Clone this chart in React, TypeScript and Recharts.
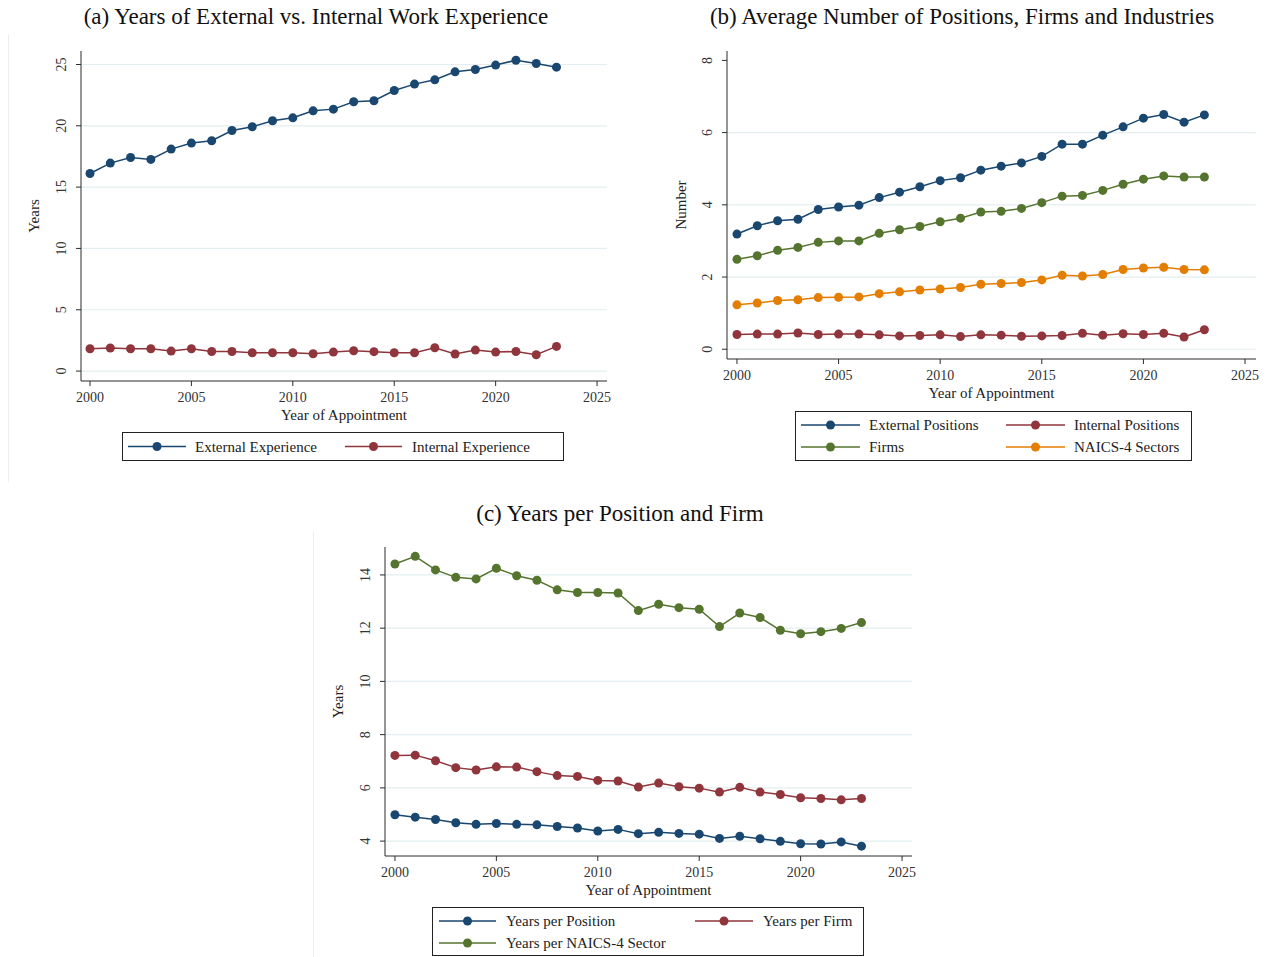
import React from "react";
import { LineChart, Line, XAxis, YAxis, ReferenceLine } from "recharts";

const years = [
  2000, 2001, 2002, 2003, 2004, 2005, 2006, 2007, 2008, 2009, 2010, 2011,
  2012, 2013, 2014, 2015, 2016, 2017, 2018, 2019, 2020, 2021, 2022, 2023,
];

// (a) years of experience
const externalExperience = [
  16.11, 16.96, 17.42, 17.26, 18.1, 18.59, 18.78, 19.62, 19.92, 20.41, 20.65, 21.22,
  21.36, 21.96, 22.04, 22.88, 23.4, 23.75, 24.4, 24.59, 24.95, 25.35, 25.08, 24.78,
];
const internalExperience = [
  1.82, 1.88, 1.82, 1.82, 1.63, 1.82, 1.6, 1.6, 1.49, 1.49, 1.49, 1.41,
  1.55, 1.66, 1.58, 1.49, 1.49, 1.9, 1.39, 1.71, 1.55, 1.6, 1.33, 2.01,
];

// (b) average counts
const externalPositions = [
  3.19, 3.42, 3.56, 3.6, 3.87, 3.94, 3.99, 4.2, 4.35, 4.5, 4.67, 4.75,
  4.96, 5.07, 5.16, 5.34, 5.68, 5.68, 5.93, 6.16, 6.4, 6.5, 6.29, 6.49,
];
const internalPositions = [
  0.41, 0.42, 0.42, 0.45, 0.41, 0.42, 0.42, 0.4, 0.37, 0.38, 0.4, 0.35,
  0.4, 0.39, 0.36, 0.37, 0.38, 0.44, 0.39, 0.43, 0.41, 0.44, 0.34, 0.54,
];
const firms = [
  2.49, 2.59, 2.74, 2.82, 2.96, 3.0, 3.0, 3.21, 3.31, 3.4, 3.53, 3.63,
  3.8, 3.82, 3.9, 4.06, 4.24, 4.26, 4.4, 4.57, 4.71, 4.8, 4.77, 4.77,
];
const naicsSectors = [
  1.23, 1.28, 1.35, 1.37, 1.43, 1.44, 1.45, 1.54, 1.59, 1.64, 1.67, 1.71,
  1.8, 1.82, 1.85, 1.92, 2.05, 2.03, 2.07, 2.21, 2.25, 2.27, 2.21, 2.2,
];

// (c) years per unit
const yearsPerPosition = [
  4.99, 4.9, 4.81, 4.69, 4.63, 4.66, 4.63, 4.61, 4.55, 4.49, 4.38, 4.44,
  4.28, 4.33, 4.29, 4.26, 4.1, 4.18, 4.09, 3.99, 3.9, 3.89, 3.97, 3.81,
];
const yearsPerFirm = [
  7.22, 7.23, 7.02, 6.76, 6.67, 6.79, 6.78, 6.61, 6.46, 6.43, 6.28, 6.26,
  6.03, 6.18, 6.04, 5.99, 5.84, 6.02, 5.84, 5.75, 5.63, 5.6, 5.55, 5.6,
];
const yearsPerSector = [
  14.41, 14.7, 14.19, 13.91, 13.85, 14.25, 13.97, 13.8, 13.44, 13.34, 13.34, 13.32,
  12.66, 12.9, 12.77, 12.71, 12.06, 12.57, 12.4, 11.92, 11.79, 11.87, 11.99, 12.21,
];

const xTicks = [2000, 2005, 2010, 2015, 2020, 2025];
const ticksA = [0, 5, 10, 15, 20, 25];
const ticksB = [0, 2, 4, 6, 8];
const gridB = [0, 2, 4, 6];
const ticksC = [4, 6, 8, 10, 12, 14];

const NAVY = "#1a476f";
const MAROON = "#90353b";
const GREEN = "#55752f";
const ORANGE = "#e37e00";
const GRID = "#e4eef0";
const AXIS = "#2b2b2b";
const FONT = "'Liberation Serif', 'Times New Roman', serif";

type Series = { key: string; name: string; color: string; values: number[] };

const YTick = (props: any) => {
  const { x, y, payload } = props;
  const cx = x - 12;
  return (
    <text
      x={cx}
      y={y}
      transform={`rotate(-90 ${cx} ${y})`}
      textAnchor="middle"
      dominantBaseline="central"
      fontFamily={FONT}
      fontSize={14}
      fill="#333"
    >
      {payload.value}
    </text>
  );
};

const XTick = (props: any) => {
  const { x, y, payload } = props;
  return (
    <text x={x} y={y + 9.5} textAnchor="middle" dominantBaseline="central" fontFamily={FONT} fontSize={14} fill="#333">
      {payload.value}
    </text>
  );
};

interface PanelProps {
  left: number;
  top: number;
  width: number;
  height: number;
  yWidth: number;
  margin: { top: number; right: number; bottom: number; left: number };
  xDomain: [number, number];
  yDomain: [number, number];
  yTicks: number[];
  gridValues: number[];
  yLabel: string;
  yLabelX: number;
  series: Series[];
}

function Panel({ left, top, width, height, yWidth, margin, xDomain, yDomain, yTicks, gridValues, yLabel, yLabelX, series }: PanelProps) {
  const data = years.map((year, i) => {
    const row: Record<string, number> = { year };
    series.forEach((s) => (row[s.key] = s.values[i]));
    return row;
  });

  return (
    <div style={{ position: "absolute", left, top }}>
      <LineChart width={width} height={height} data={data} margin={margin}>
        {gridValues.map((v) => (
          <ReferenceLine key={v} y={v} stroke={GRID} strokeWidth={1.2} />
        ))}
        <XAxis
          dataKey="year"
          type="number"
          domain={xDomain}
          ticks={xTicks}
          allowDataOverflow
          height={45}
          tickSize={5}
          tickMargin={2}
          stroke={AXIS}
          tick={XTick}
          label={{
            content: (p: any) => {
              const vb = p.viewBox;
              return (
                <text x={vb.x + vb.width / 2} y={vb.y + 33.5} textAnchor="middle" dominantBaseline="central" fontFamily={FONT} fontSize={15} fill="#222">
                  Year of Appointment
                </text>
              );
            },
          }}
        />
        <YAxis
          type="number"
          domain={yDomain}
          ticks={yTicks}
          allowDataOverflow
          width={yWidth}
          tickSize={5}
          tickMargin={2}
          stroke={AXIS}
          tick={YTick}
          label={{
            content: (p: any) => {
              const vb = p.viewBox;
              const cy = vb.y + vb.height / 2;
              const cx = vb.x + yLabelX;
              return (
                <text x={cx} y={cy} transform={`rotate(-90 ${cx} ${cy})`} textAnchor="middle" dominantBaseline="central" fontFamily={FONT} fontSize={15} fill="#222">
                  {yLabel}
                </text>
              );
            },
          }}
        />
        {series.map((s) => (
          <Line
            key={s.key}
            type="linear"
            dataKey={s.key}
            name={s.name}
            stroke={s.color}
            strokeWidth={1.5}
            dot={{ r: 4.5, fill: s.color, stroke: s.color, strokeWidth: 0 }}
            isAnimationActive={false}
          />
        ))}
      </LineChart>
    </div>
  );
}

interface LegendProps {
  left: number;
  top: number;
  width: number;
  height: number;
  columns: { x1: number; x2: number; text: number }[];
  rows: number[];
  series: Series[];
}

function LegendBox({ left, top, width, height, columns, rows, series }: LegendProps) {
  return (
    <svg style={{ position: "absolute", left, top }} width={width} height={height}>
      <rect x={0.5} y={0.5} width={width - 1} height={height - 1} fill="#fff" stroke="#222" strokeWidth={1} />
      {series.map((s, i) => {
        const col = columns[i % columns.length];
        const y = rows[Math.floor(i / columns.length)];
        return (
          <g key={s.key}>
            <line x1={col.x1} x2={col.x2} y1={y} y2={y} stroke={s.color} strokeWidth={1.5} />
            <circle cx={(col.x1 + col.x2) / 2} cy={y} r={4.5} fill={s.color} />
            <text x={col.text} y={y} dominantBaseline="central" fontFamily={FONT} fontSize={15} fill="#222">
              {s.name}
            </text>
          </g>
        );
      })}
    </svg>
  );
}

const titleStyle: React.CSSProperties = {
  position: "absolute",
  fontFamily: FONT,
  fontSize: 23,
  color: "#111",
  textAlign: "center",
  whiteSpace: "nowrap",
  lineHeight: "24px",
};

const seriesA: Series[] = [
  { key: "ext", name: "External Experience", color: NAVY, values: externalExperience },
  { key: "int", name: "Internal Experience", color: MAROON, values: internalExperience },
];
const seriesB: Series[] = [
  { key: "extPos", name: "External Positions", color: NAVY, values: externalPositions },
  { key: "intPos", name: "Internal Positions", color: MAROON, values: internalPositions },
  { key: "firms", name: "Firms", color: GREEN, values: firms },
  { key: "naics", name: "NAICS-4 Sectors", color: ORANGE, values: naicsSectors },
];
const seriesC: Series[] = [
  { key: "perPos", name: "Years per Position", color: NAVY, values: yearsPerPosition },
  { key: "perFirm", name: "Years per Firm", color: MAROON, values: yearsPerFirm },
  { key: "perSector", name: "Years per NAICS-4 Sector", color: GREEN, values: yearsPerSector },
];

export default function App() {
  return (
    <div style={{ position: "absolute", left: 0, top: 0, width: 1270, height: 957, background: "#fff", overflow: "hidden" }}>
      {/* faint graph-region edges */}
      <div style={{ position: "absolute", left: 8, top: 34, width: 1, height: 448, background: "#eeeeee" }} />
      <div style={{ position: "absolute", left: 313, top: 532, width: 1, height: 425, background: "#eeeeee" }} />

      <div style={{ ...titleStyle, left: 16, top: 5, width: 600 }}>(a) Years of External vs. Internal Work Experience</div>
      <div style={{ ...titleStyle, left: 662, top: 5, width: 600 }}>(b) Average Number of Positions, Firms and Industries</div>
      <div style={{ ...titleStyle, left: 320, top: 502, width: 600 }}>(c) Years per Position and Firm</div>

      <Panel
        left={0}
        top={0}
        width={640}
        height={430}
        yWidth={81}
        margin={{ top: 51, right: 33, bottom: 4, left: 0 }}
        xDomain={[1999.556, 2025.49]}
        yDomain={[-0.81, 26.1]}
        yTicks={ticksA}
        gridValues={ticksA}
        yLabel="Years"
        yLabelX={34}
        series={seriesA}
      />
      <LegendBox
        left={122}
        top={432}
        width={442}
        height={29}
        columns={[
          { x1: 6, x2: 64, text: 73 },
          { x1: 223, x2: 280, text: 290 },
        ]}
        rows={[14.5]}
        series={seriesA}
      />

      <Panel
        left={640}
        top={0}
        width={630}
        height={420}
        yWidth={87}
        margin={{ top: 51, right: 14, bottom: 16, left: 0 }}
        xDomain={[1999.51, 2025.54]}
        yDomain={[-0.27, 8.26]}
        yTicks={ticksB}
        gridValues={gridB}
        yLabel="Number"
        yLabelX={41}
        series={seriesB}
      />
      <LegendBox
        left={795}
        top={411}
        width={397}
        height={50}
        columns={[
          { x1: 6, x2: 65, text: 74 },
          { x1: 211, x2: 270, text: 279 },
        ]}
        rows={[14, 36]}
        series={seriesB}
      />

      <Panel
        left={300}
        top={530}
        width={640}
        height={380}
        yWidth={85}
        margin={{ top: 17, right: 28, bottom: 9, left: 0 }}
        xDomain={[1999.51, 2025.49]}
        yDomain={[3.44, 15.05]}
        yTicks={ticksC}
        gridValues={ticksC}
        yLabel="Years"
        yLabelX={38}
        series={seriesC}
      />
      <LegendBox
        left={432}
        top={907}
        width={432}
        height={49}
        columns={[
          { x1: 7, x2: 64, text: 74 },
          { x1: 263, x2: 321, text: 331 },
        ]}
        rows={[14, 36]}
        series={seriesC}
      />
    </div>
  );
}
